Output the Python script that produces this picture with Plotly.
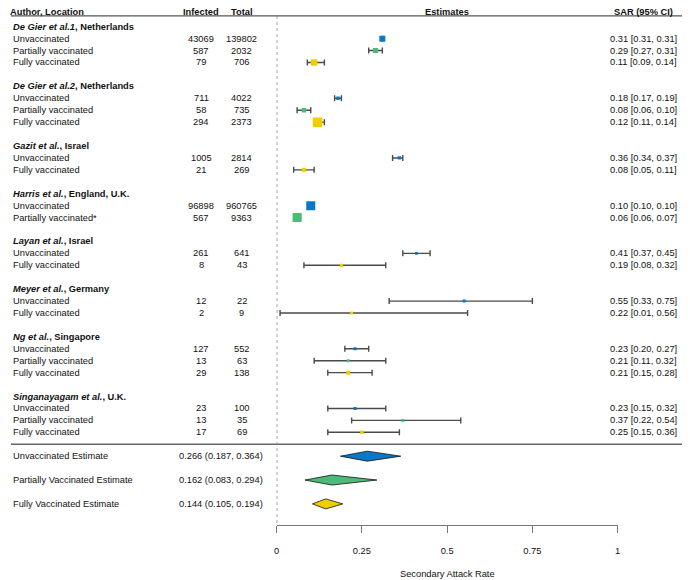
import plotly.graph_objects as go

# study blocks
studies = ["De Gier et al.1", "De Gier et al.2", "Gazit et al.", "Harris et al.",
           "Layan et al.", "Meyer et al.", "Ng et al.", "Singanayagam et al."]
locations = ["Netherlands", "Netherlands", "Israel", "England, U.K.",
             "Israel", "Germany", "Singapore", "U.K."]
groups = [
    ["Unvaccinated", "Partially vaccinated", "Fully vaccinated"],
    ["Unvaccinated", "Partially vaccinated", "Fully vaccinated"],
    ["Unvaccinated", "Fully vaccinated"],
    ["Unvaccinated", "Partially vaccinated*"],
    ["Unvaccinated", "Fully vaccinated"],
    ["Unvaccinated", "Fully vaccinated"],
    ["Unvaccinated", "Partially vaccinated", "Fully vaccinated"],
    ["Unvaccinated", "Partially vaccinated", "Fully vaccinated"],
]
infected = [[43069, 587, 79], [711, 58, 294], [1005, 21], [96898, 567],
            [261, 8], [12, 2], [127, 13, 29], [23, 13, 17]]
total = [[139802, 2032, 706], [4022, 735, 2373], [2814, 269], [960765, 9363],
         [641, 43], [22, 9], [552, 63, 138], [100, 35, 69]]
sar = [[0.31, 0.29, 0.11], [0.18, 0.08, 0.12], [0.36, 0.08], [0.10, 0.06],
       [0.41, 0.19], [0.55, 0.22], [0.23, 0.21, 0.21], [0.23, 0.37, 0.25]]
sar_lo = [[0.31, 0.27, 0.09], [0.17, 0.06, 0.11], [0.34, 0.05], [0.10, 0.06],
          [0.37, 0.08], [0.33, 0.01], [0.20, 0.11, 0.15], [0.15, 0.22, 0.15]]
sar_hi = [[0.31, 0.31, 0.14], [0.19, 0.10, 0.14], [0.37, 0.11], [0.10, 0.07],
          [0.45, 0.32], [0.75, 0.56], [0.27, 0.32, 0.28], [0.32, 0.54, 0.36]]

# pooled estimates
pooled_names = ["Unvaccinated Estimate", "Partially Vaccinated Estimate", "Fully Vaccinated Estimate"]
pooled_est = [0.266, 0.162, 0.144]
pooled_lo = [0.187, 0.083, 0.105]
pooled_hi = [0.364, 0.294, 0.194]

x_ticks = [0, 0.25, 0.5, 0.75, 1]
x_ticklabels = ["0", "0.25", "0.5", "0.75", "1"]

# styling
box_px = [[6, 5, 6.5], [3.5, 4.5, 9.5], [3.3, 4.3], [9, 9],
          [2.8, 3.3], [3, 3], [3, 3, 4], [3, 3, 3.5]]
colors = {"Unvaccinated": "#0a78c6", "Partially": "#4dbb78", "Fully": "#f0cf00"}
FONT = "Liberation Sans, Arial, sans-serif"
FS = 9.3
OFF = 8                      # page body margin
W, H = 690 - OFF, 580 - OFF
ROW0, ROWH = 26.7, 11.93     # page y of first row, row height
AXIS_Y = 525                 # page y of x axis line


def gcolor(name):
    for k, c in colors.items():
        if name.startswith(k):
            return c


def px(p):
    return (p - OFF) / W


fig = go.Figure()
ann = []

row = 0
for i, st in enumerate(studies):
    ann.append(dict(x=px(8), y=row, text="<b><i>%s</i>, %s</b>" % (st, locations[i]),
                    xanchor="left"))
    row += 1
    for j, g in enumerate(groups[i]):
        c = gcolor(g)
        ann.append(dict(x=px(8), y=row, text=g, xanchor="left"))
        ann.append(dict(x=px(200), y=row, text=str(infected[i][j]), xanchor="center"))
        ann.append(dict(x=px(241), y=row, text=str(total[i][j]), xanchor="center"))
        ann.append(dict(x=px(682), y=row,
                        text="%.2f [%.2f, %.2f]" % (sar[i][j], sar_lo[i][j], sar_hi[i][j]),
                        xanchor="right"))
        fig.add_trace(go.Scatter(
            x=[sar[i][j]], y=[row], mode="markers",
            marker=dict(symbol="square", size=box_px[i][j], color=c, line=dict(width=0)),
            error_x=dict(type="data", symmetric=False,
                         array=[sar_hi[i][j] - sar[i][j]],
                         arrayminus=[sar[i][j] - sar_lo[i][j]],
                         color="#4a4a4a", thickness=1.4, width=3),
            showlegend=False, hoverinfo="skip"))
        row += 1
    row += 1

sep_row = row - 1
for k, name in enumerate(pooled_names):
    r = sep_row + 1 + 2 * k
    c = gcolor(name)
    ann.append(dict(x=px(8), y=r, text=name, xanchor="left"))
    ann.append(dict(x=px(264), y=r,
                    text="%.3f (%.3f, %.3f)" % (pooled_est[k], pooled_lo[k], pooled_hi[k]),
                    xanchor="right"))
    h = 0.42
    fig.add_trace(go.Scatter(
        x=[pooled_lo[k], pooled_est[k], pooled_hi[k], pooled_est[k], pooled_lo[k]],
        y=[r, r - h, r, r + h, r], mode="lines", fill="toself", fillcolor=c,
        line=dict(color="#111111", width=0.8), showlegend=False, hoverinfo="skip"))

# header
head_row = -1.25
ann.append(dict(x=px(5), y=head_row, text="<b>Author, Location</b>", xanchor="left"))
ann.append(dict(x=px(200), y=head_row, text="<b>Infected</b>", xanchor="center"))
ann.append(dict(x=px(241), y=head_row, text="<b>Total</b>", xanchor="center"))
ann.append(dict(x=0.5, y=head_row, xref="x", text="<b>Estimates</b>", xanchor="center"))
ann.append(dict(x=px(678), y=head_row, text="<b>SAR (95% CI)</b>", xanchor="right"))

plot_h = AXIS_Y - OFF
annotations = []
for a in ann:
    d = dict(xref="paper", yref="y", showarrow=False, yanchor="middle",
             font=dict(family=FONT, size=FS, color="#111111"))
    d.update(a)
    annotations.append(d)
annotations.append(dict(x=0.5, xref="x", y=-(574 - AXIS_Y) / plot_h, yref="paper",
                        text="Secondary Attack Rate", showarrow=False, yanchor="middle",
                        font=dict(family=FONT, size=FS, color="#111111")))

y_top = (OFF - ROW0) / ROWH
y_bot = (AXIS_Y - ROW0) / ROWH

shapes = [
    dict(type="line", xref="paper", yref="y", x0=0, x1=1, y0=-0.9, y1=-0.9,
         line=dict(color="#555555", width=1.3)),
    dict(type="line", xref="paper", yref="y", x0=0, x1=1, y0=sep_row, y1=sep_row,
         line=dict(color="#666666", width=1.3)),
    dict(type="line", xref="x", yref="y", x0=0, x1=0, y0=-0.9, y1=y_bot,
         line=dict(color="#8a8a8a", width=1.5, dash="dot")),
]

fig.update_layout(
    width=W, height=H,
    margin=dict(l=0, r=0, t=0, b=H - plot_h),
    paper_bgcolor="white", plot_bgcolor="white",
    font=dict(family=FONT, size=FS, color="#111111"),
    annotations=annotations, shapes=shapes,
    xaxis=dict(domain=[px(276), px(620)], range=[0, 1], tickvals=x_ticks,
               ticktext=x_ticklabels, showgrid=False, zeroline=False,
               showline=True, linecolor="#777777", linewidth=1.3,
               ticks="outside", ticklen=7, tickwidth=1.3, tickcolor="#777777",
               ticklabelstandoff=10, tickfont=dict(family=FONT, size=FS, color="#111111")),
    yaxis=dict(range=[y_bot, y_top], visible=False, showgrid=False, zeroline=False),
)

fig.write_html("out.html")
